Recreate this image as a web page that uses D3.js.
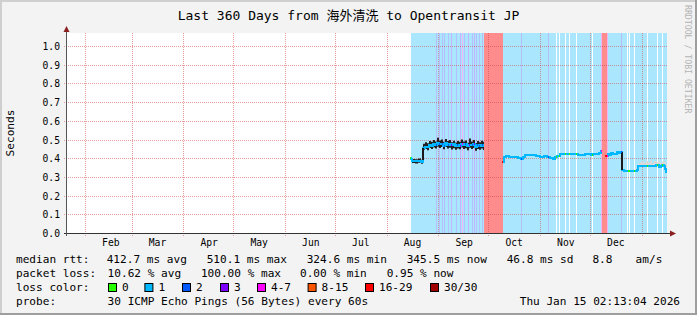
<!DOCTYPE html>
<html>
<head>
<meta charset="utf-8">
<script src="https://cdn.jsdelivr.net/npm/d3@7"></script>
<style>
body { margin: 0; background: #f3f3f3; }
svg { display: block; }
text { font-family: 'DejaVu Sans Mono', 'Noto Sans CJK SC', monospace; fill: #000; }
</style>
</head>
<body>
<div id="chart"></div>
<script>
// ---- data (days are day-of-year 2025, UTC) ----
const title = 'Last 360 Days from 海外清洗 to Opentransit JP'
const viewStartDay = 20.2
const viewEndDay = 380.2
const yTicks = [0, 0.1, 0.2, 0.3, 0.4, 0.5, 0.6, 0.7, 0.8, 0.9, 1.0]

const medianDay = [226.0, 226.6, 227.2, 229, 230.8, 232.6, 233.5, 234.1, 235, 236.2, 237.4, 238.6, 239.8, 241, 242.2, 243.4, 244.6, 245.8, 247, 248.2, 249.4, 250.6, 251.8, 253, 254.2, 255.4, 256.6, 257.8, 259, 260.2, 261.4, 262.6, 263.8, 265, 266.2, 267.4, 268.6, 269.8, 270.4,
	281.2, 282.1, 283.6, 285.4, 287.2, 289, 290.8, 292.6, 293.8, 295, 296.8, 299.2, 301.6, 304, 306.4, 308.2, 310, 311.8, 313, 314.2, 316, 317.8, 319.6, 322, 324.4, 326.8, 328.6, 329.8, 331, 332.8, 334.6, 335.8, 337, 338.2, 339.4, 340.3, 341,
	343.3, 344.5, 345.4, 346.6, 347.8, 349, 350.2, 351.4, 352.3, 353.2, 354.4, 355.6, 356.8, 358.6, 360.4, 361.9, 362.5, 364.6, 366.4, 368.2, 370, 371.8, 373.6, 375.4, 376.3, 377.2, 378.1, 379, 379.6, 380.0]
const medianVal = [0.402, 0.395, 0.385, 0.383, 0.387, 0.381, 0.392, 0.455, 0.462, 0.458, 0.470, 0.466, 0.476, 0.470, 0.481, 0.474, 0.478, 0.468, 0.480, 0.472, 0.476, 0.469, 0.474, 0.466, 0.472, 0.468, 0.478, 0.470, 0.474, 0.465, 0.472, 0.469, 0.476, 0.462, 0.470, 0.465, 0.472, 0.466, null,
	0.378, 0.405, 0.412, 0.406, 0.408, 0.404, 0.401, 0.396, 0.404, 0.416, 0.418, 0.415, 0.414, 0.409, 0.411, 0.404, 0.402, 0.398, 0.404, 0.414, 0.422, 0.421, 0.420, 0.423, 0.421, 0.418, 0.415, 0.417, 0.420, 0.424, 0.418, 0.422, 0.425, 0.420, 0.428, 0.438, null,
	0.412, 0.422, 0.418, 0.427, 0.421, 0.424, 0.432, 0.428, 0.435, 0.336, 0.334, 0.330, 0.332, 0.334, 0.333, 0.337, 0.358, 0.360, 0.357, 0.359, 0.356, 0.360, 0.362, 0.352, 0.358, 0.362, 0.358, 0.345, 0.325, null]

// dark smoke (Aug-Sep), last day closes the final step
const smokeDarkDay = [227.2, 229, 230.8, 232.6, 233.5, 234.1, 235, 236.2, 237.4, 238.6, 239.8, 241, 242.2, 243.4, 244.6, 245.8, 247, 248.2, 249.4, 250.6, 251.8, 253, 254.2, 255.4, 256.6, 257.8, 259, 260.2, 261.4, 262.6, 263.8, 265, 266.2, 267.4, 268.6, 269.8, 270.4]
const smokeDarkTop = [0.396, 0.394, 0.398, 0.392, 0.402, 0.478, 0.485, 0.480, 0.492, 0.488, 0.498, 0.490, 0.510, 0.495, 0.500, 0.488, 0.503, 0.492, 0.497, 0.486, 0.494, 0.484, 0.492, 0.488, 0.500, 0.489, 0.495, 0.483, 0.505, 0.490, 0.497, 0.482, 0.492, 0.486, 0.494, 0.488]
const smokeDarkBot = [0.374, 0.372, 0.376, 0.370, 0.380, 0.445, 0.450, 0.443, 0.455, 0.450, 0.458, 0.452, 0.462, 0.455, 0.460, 0.448, 0.460, 0.452, 0.456, 0.447, 0.454, 0.445, 0.452, 0.448, 0.458, 0.450, 0.454, 0.443, 0.456, 0.450, 0.455, 0.440, 0.450, 0.446, 0.452, 0.444]

// light smoke (Dec-Jan)
const smokeLightDay = [361, 362.5, 364, 365.2, 366.4, 367.6, 368.8, 370, 371.2, 372.4, 373.6, 374.8, 376, 377.2, 378.4, 379.3, 380]
const smokeLightTop = [0.345, 0.372, 0.378, 0.384, 0.376, 0.386, 0.379, 0.388, 0.375, 0.385, 0.380, 0.387, 0.377, 0.384, 0.378, 0.368]
const smokeLightBot = [0.333, 0.356, 0.356, 0.355, 0.355, 0.356, 0.355, 0.354, 0.356, 0.358, 0.356, 0.350, 0.354, 0.358, 0.352, 0.330]

// loss background bands: start day, length in days, loss level index
const lossDay = [226.6, 226.0, 241.6, 243.4, 245.0, 246.4, 248.6, 250.4, 253.8, 256.0, 257.0, 258.6, 261.0, 263.0, 264.4, 265.8, 267.4, 269.0, 270.4, 292.6, 309.0, 313.4, 315.4, 319.0, 321.4, 325.6, 335.0, 340.4, 341.0, 343.9, 352.6, 356.4, 357.6, 360.2, 368.0, 374.0, 377.0]
const lossLen = [153.6, 0.6, 0.6, 0.6, 0.6, 0.6, 0.6, 0.6, 0.6, 0.6, 0.6, 0.6, 0.6, 0.6, 0.6, 0.6, 0.6, 0.6, 11.4, 0.6, 0.6, 0.6, 0.6, 0.6, 0.6, 0.6, 0.6, 0.6, 2.9, 0.6, 0.6, 0.6, 0.6, 0.6, 0.6, 0.6, 0.6]
const lossLevel = [1, 0, 2, 2, 2, 2, 2, 3, 2, 3, 4, 2, 3, 2, 3, 2, 2, 2, 6, 2, 2, 0, 0, 0, 0, 0, 0, 4, 6, 4, 2, 0, 0, 0, 0, 0, 0]

const lossNames = ['0', '1', '2', '3', '4-7', '8-15', '16-29', '30/30']
const lossColors = ['#26ff00', '#00b8ff', '#0059ff', '#7e00ff', '#ff00ff', '#ff5500', '#ff0000', '#a10000']
const lossBg = ['#ffffff', '#aae6fe', '#b4bffc', '#c3b4fc', '#efb4f6', '#ffc4a8', '#ff8c8c', '#d89a9a']

const rowLabels = ['median rtt:', 'packet loss:', 'loss color:', 'probe:']
const rttStats = ['412.7 ms avg', '510.1 ms max', '324.6 ms min', '345.5 ms now', '46.8 ms sd', '8.8', 'am/s']
const lossStats = ['10.62 % avg', '100.00 % max', '0.00 % min', '0.95 % now']
const probeText = '30 ICMP Echo Pings (56 Bytes) every 60s'
const stampText = 'Thu Jan 15 02:13:04 2026'
const watermark = 'RRDTOOL / TOBI OETIKER'

// ---- layout ----
const W = 697, H = 315
const plotL = 67, plotR = 667, plotT = 33, plotB = 233
const rttX = [106.7, 206.7, 306.7, 406.7, 506.7, 592.4, 635.6]
const lossX = [107.6, 200.9, 300, 386.7]
const boxX = [108, 144.4, 182, 220, 257, 307.6, 365, 430]
const rowY = [262.5, 276.5, 290.5, 304.5]

const dayToDate = d => new Date(Date.UTC(2025, 0, 1) + d * 864e5)

const x = d3.scaleUtc()
	.domain([dayToDate(viewStartDay), dayToDate(viewEndDay)])
	.range([plotL, plotR])
const y = d3.scaleLinear()
	.domain([0, 1.07])
	.range([plotB, plotT])
const xd = d => x(dayToDate(d))

const svg = d3.select('#chart')
	.append('svg')
	.attr('width', W)
	.attr('height', H)

// background + frame shading
svg.append('rect').attr('width', W).attr('height', H).attr('fill', '#f3f3f3')
svg.append('rect').attr('width', W).attr('height', 2).attr('fill', '#cfcfcf')
svg.append('rect').attr('width', 2).attr('height', H).attr('fill', '#cfcfcf')
svg.append('rect').attr('y', H - 2).attr('width', W).attr('height', 2).attr('fill', '#9e9e9e')
svg.append('rect').attr('x', W - 2).attr('width', 2).attr('height', H).attr('fill', '#9e9e9e')

svg.append('rect')
	.attr('x', plotL).attr('y', plotT)
	.attr('width', plotR - plotL).attr('height', plotB - plotT)
	.attr('fill', '#fff')

// loss background
const bands = lossDay.map((d, i) => ({ d: d, len: lossLen[i], level: lossLevel[i] }))
svg.append('g')
	.selectAll('rect')
	.data(bands)
	.enter()
	.append('rect')
	.attr('x', b => Math.round(xd(b.d)))
	.attr('width', b => Math.max(1, Math.round(xd(b.d + b.len)) - Math.round(xd(b.d))))
	.attr('y', plotT)
	.attr('height', plotB - plotT)
	.attr('fill', b => lossBg[b.level])
	.attr('shape-rendering', 'crispEdges')

// grid
const months = d3.utcMonth.range(dayToDate(viewStartDay), dayToDate(viewEndDay))
const grid = svg.append('g')
	.attr('stroke', 'rgba(210, 60, 60, 0.5)')
	.attr('stroke-dasharray', '1,1')
	.attr('shape-rendering', 'crispEdges')
grid.selectAll('line.h')
	.data(yTicks.slice(1))
	.enter()
	.append('line')
	.attr('x1', plotL - 3).attr('x2', plotR)
	.attr('y1', t => Math.round(y(t)) + 0.5)
	.attr('y2', t => Math.round(y(t)) + 0.5)
grid.selectAll('line.v')
	.data(months)
	.enter()
	.append('line')
	.attr('x1', m => Math.round(x(m)) + 0.5)
	.attr('x2', m => Math.round(x(m)) + 0.5)
	.attr('y1', plotT).attr('y2', plotB + 3)

// smoke
function stepArea(days, top, bot) {
	const pts = []
	top.forEach((t, i) => {
		pts.push([days[i], t, bot[i]])
		pts.push([days[i + 1], t, bot[i]])
	})
	return d3.area()
		.x(p => Math.round(xd(p[0])))
		.y0(p => y(p[2]))
		.y1(p => y(p[1]))(pts)
}
svg.append('path').attr('d', stepArea(smokeLightDay, smokeLightTop, smokeLightBot)).attr('fill', '#d9d9d9')
svg.append('path').attr('d', stepArea(smokeDarkDay, smokeDarkTop, smokeDarkBot)).attr('fill', '#222')

// median line (step)
const medPts = []
medianDay.forEach((d, i) => {
	if (medianVal[i] == null) {
		medPts.push({ d: d, v: null })
	} else {
		medPts.push({ d: d, v: medianVal[i] })
		medPts.push({ d: medianDay[i + 1], v: medianVal[i] })
	}
})
const medLine = d3.line()
	.defined(p => p.v != null)
	.x(p => Math.round(xd(p.d)))
	.y(p => Math.round(y(p.v)))
svg.append('path')
	.attr('d', medLine(medPts))
	.attr('fill', 'none')
	.attr('stroke', lossColors[1])
	.attr('stroke-width', 2)

// big jumps show as dark smoke columns
medianVal.forEach((v, i) => {
	const p = medianVal[i - 1]
	if (i > 0 && v != null && p != null && Math.abs(v - p) > 0.03) {
		svg.append('line')
			.attr('x1', Math.round(xd(medianDay[i]))).attr('x2', Math.round(xd(medianDay[i])))
			.attr('y1', Math.round(y(p))).attr('y2', Math.round(y(v)))
			.attr('stroke', '#1a1a1a').attr('stroke-width', 2)
	}
})

// median coloured by loss where loss is not 1
bands.slice(1).forEach(b => {
	if (b.level === 1) return
	const t = b.d + b.len - 0.05
	const idx = d3.bisectRight(medianDay, t) - 1
	if (idx < 0 || medianVal[idx] == null) return
	const s = Math.max(b.d, medianDay[idx])
	const e = Math.min(b.d + b.len, medianDay[idx + 1])
	const x0 = Math.round(xd(s))
	const x1 = Math.max(Math.round(xd(e)), x0 + 1)
	svg.append('line')
		.attr('x1', x0).attr('x2', x1)
		.attr('y1', Math.round(y(medianVal[idx]))).attr('y2', Math.round(y(medianVal[idx])))
		.attr('stroke', lossColors[b.level])
		.attr('stroke-width', 2)
})

// axes
svg.append('line')
	.attr('x1', plotL - 3).attr('x2', plotR + 3)
	.attr('y1', plotB + 0.5).attr('y2', plotB + 0.5)
	.attr('stroke', '#333')
svg.append('line')
	.attr('x1', plotL - 0.5).attr('x2', plotL - 0.5)
	.attr('y1', plotB + 3).attr('y2', plotT - 3)
	.attr('stroke', '#555')
svg.append('path')
	.attr('d', `M${plotL - 3.5},${plotT - 1} L${plotL - 0.5},${plotT - 7} L${plotL + 2.5},${plotT - 1} Z`)
	.attr('fill', '#8b2020')
svg.append('path')
	.attr('d', `M${plotR + 3},${plotB - 2.5} L${plotR + 9},${plotB + 0.5} L${plotR + 3},${plotB + 3.5} Z`)
	.attr('fill', '#8b2020')

// y labels
svg.selectAll('text.ytick')
	.data(yTicks)
	.enter()
	.append('text')
	.attr('x', 60)
	.attr('y', t => Math.round(y(t)) + 4)
	.attr('text-anchor', 'end')
	.style('font-size', '9.7px')
	.text(d3.format('.1f'))

// month labels
svg.selectAll('text.month')
	.data(months.filter(m => x(d3.utcHour.offset(m, 372)) < plotR))
	.enter()
	.append('text')
	.attr('x', m => x(d3.utcHour.offset(m, 372)))
	.attr('y', 245.5)
	.attr('text-anchor', 'middle')
	.style('font-size', '9.7px')
	.text(d3.utcFormat('%b'))

// title, unit, watermark
svg.append('text')
	.attr('x', 348.5).attr('y', 19.5)
	.attr('text-anchor', 'middle')
	.style('font-size', '13px')
	.text(title)
svg.append('text')
	.attr('transform', `translate(14, ${(plotT + plotB) / 2}) rotate(-90)`)
	.attr('text-anchor', 'middle')
	.style('font-size', '11.1px')
	.text('Seconds')
svg.append('text')
	.attr('transform', 'translate(684.5, 5) rotate(90)')
	.style('font-size', '8.2px')
	.style('fill', '#b4b4b4')
	.text(watermark)

// legend
const legend = svg.append('g').style('font-size', '11.1px')
legend.selectAll('text.row')
	.data(rowLabels)
	.enter()
	.append('text')
	.attr('x', 16)
	.attr('y', (d, i) => rowY[i])
	.text(d => d)
legend.selectAll('text.rtt')
	.data(rttStats)
	.enter()
	.append('text')
	.attr('x', (d, i) => rttX[i])
	.attr('y', rowY[0])
	.text(d => d)
legend.selectAll('text.loss')
	.data(lossStats)
	.enter()
	.append('text')
	.attr('x', (d, i) => lossX[i])
	.attr('y', rowY[1])
	.text(d => d)
legend.selectAll('rect.box')
	.data(lossNames)
	.enter()
	.append('rect')
	.attr('x', (d, i) => boxX[i] + 0.5)
	.attr('y', 283.5)
	.attr('width', 8)
	.attr('height', 8)
	.attr('fill', (d, i) => lossColors[i])
	.attr('stroke', '#000')
legend.selectAll('text.lname')
	.data(lossNames)
	.enter()
	.append('text')
	.attr('x', (d, i) => boxX[i] + 14)
	.attr('y', rowY[2])
	.text(d => d)
legend.append('text').attr('x', 107.6).attr('y', rowY[3]).text(probeText)
legend.append('text').attr('x', 680).attr('y', rowY[3]).attr('text-anchor', 'end').text(stampText)
</script>
</body>
</html>
